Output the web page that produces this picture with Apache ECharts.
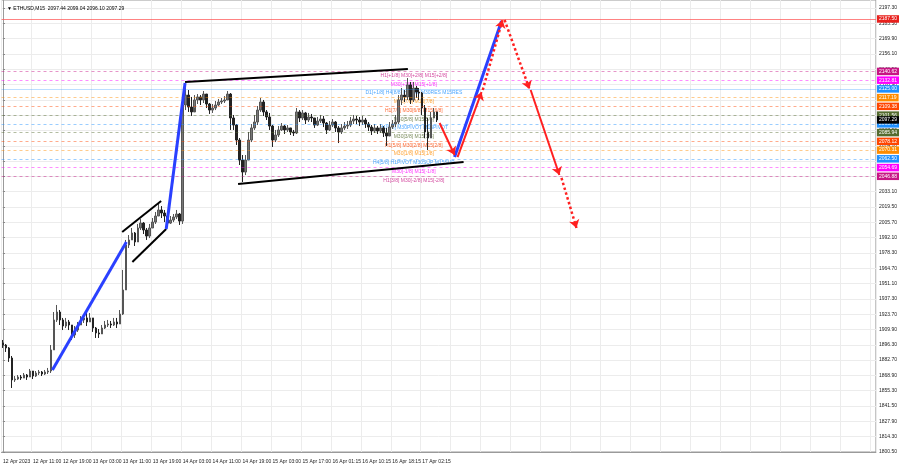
<!DOCTYPE html>
<html><head><meta charset="utf-8">
<script src="https://cdn.jsdelivr.net/npm/echarts@6/dist/echarts.min.js"></script>
<style>html,body{margin:0;padding:0;background:#fff}#c{width:900px;height:468px}</style>
</head><body><div id="c"></div>
<script>
const timeLabels = ['12 Apr 2023','12 Apr 11:00','12 Apr 19:00','13 Apr 03:00','13 Apr 11:00','13 Apr 19:00','14 Apr 03:00','14 Apr 11:00','14 Apr 19:00','15 Apr 03:00','15 Apr 17:00','16 Apr 01:15','16 Apr 10:15','16 Apr 18:15','17 Apr 02:15'];
const priceTicks = [1800.50,1814.30,1827.90,1841.50,1855.30,1868.90,1882.70,1896.30,1909.90,1923.70,1937.30,1951.10,1964.70,1978.30,1992.10,2005.70,2019.50,2033.10,2046.70,2060.50,2074.10,2087.90,2101.50,2115.30,2128.90,2142.50,2156.10,2169.90,2183.50,2197.30];

const firstOpen = 1898.0;
const closes = [1896.1,1893.5,1884.5,1864.9,1865.7,1867.5,1866.6,1869.3,1867.5,1872.9,1868.4,1871.1,1872.0,1870.2,1872.0,1872.9,1891.7,1918.5,1925.6,1918.5,
1913.1,1916.7,1914.0,1905.1,1909.5,1914.0,1918.5,1920.3,1916.7,1920.3,1911.3,1906.9,1906.0,1911.3,1914.0,1914.9,1914.0,1916.7,1914.9,1923.8,
1945.3,1985.5,1990.0,1996.2,1988.2,2000.7,2005.1,1998.9,1993.5,2000.7,2006.0,2011.4,2016.8,2014.1,2011.4,2005.1,2007.8,2010.5,2013.2,2006.9,
2110.6,2119.5,2108.8,2104.4,2115.1,2117.8,2115.1,2120.4,2111.5,2106.1,2107.9,2110.6,2113.3,2114.2,2115.1,2120.4,2099.0,2092.7,2079.3,2061.4,
2050.7,2061.4,2079.3,2090.1,2095.4,2106.1,2113.3,2104.4,2099.9,2091.8,2079.3,2083.8,2088.3,2091.8,2088.3,2090.1,2086.5,2085.6,2104.4,2099.0,
2103.5,2097.2,2099.9,2099.0,2092.7,2096.3,2098.1,2094.5,2088.3,2092.7,2095.4,2090.1,2086.5,2090.1,2091.8,2092.7,2096.3,2098.1,2097.2,2095.4,
2097.2,2093.6,2090.9,2087.4,2090.1,2087.4,2090.1,2085.6,2082.9,2090.9,2093.6,2095.4,2115.1,2119.5,2117.8,2128.5,2115.1,2125.8,2122.2,2121.3,
2107.9,2086.5,2081.1,2099.0,2104.4,2097.3];
const highs = [1900.6,1897.0,1894.3,1886.3,1868.4,1869.3,1869.3,1871.1,1870.2,1874.7,1872.9,1872.9,1873.8,1872.9,1873.8,1875.6,1896.1,1925.6,1931.9,1927.4,
1920.3,1920.3,1918.5,1913.1,1913.1,1916.7,1922.0,1923.8,1925.6,1924.7,1920.3,1912.2,1910.4,1914.0,1917.6,1918.5,1917.6,1920.3,1920.3,1927.4,
1963.2,1990.0,1994.4,2000.7,1997.1,2004.3,2008.7,2006.0,2000.7,2004.3,2009.6,2015.0,2023.0,2020.3,2016.8,2012.3,2011.4,2013.2,2016.8,2014.1,
2119.5,2126.7,2124.0,2117.8,2119.5,2120.4,2119.5,2123.1,2118.6,2112.4,2111.5,2114.2,2116.0,2116.9,2118.6,2123.1,2121.3,2101.7,2093.6,2081.1,
2065.9,2065.9,2086.5,2093.6,2101.7,2109.7,2116.9,2115.1,2106.1,2103.5,2092.7,2088.3,2091.8,2094.5,2092.7,2092.7,2090.1,2088.3,2107.9,2106.1,
2106.1,2104.4,2103.5,2102.6,2099.0,2099.9,2101.7,2100.8,2095.4,2096.3,2098.1,2096.3,2091.8,2093.6,2095.4,2096.3,2099.9,2101.7,2100.8,2099.9,
2100.8,2099.0,2095.4,2092.7,2093.6,2091.8,2093.6,2091.8,2090.1,2095.4,2097.2,2101.7,2119.5,2125.8,2124.0,2134.7,2131.2,2131.2,2127.6,2125.8,
2122.2,2110.6,2099.0,2104.4,2107.9,2102.6];
const lows = [1893.5,1889.9,1881.0,1857.7,1863.1,1864.9,1864.9,1866.6,1864.9,1869.3,1865.7,1867.5,1869.3,1868.4,1869.3,1870.2,1871.1,1891.7,1916.7,1914.0,
1909.5,1911.3,1909.5,1900.6,1902.4,1907.8,1914.0,1915.8,1913.1,1916.7,1907.8,1902.4,1902.4,1906.9,1910.4,1912.2,1911.3,1913.1,1911.3,1916.7,
1922.9,1949.8,1982.8,1990.0,1984.6,1990.0,1998.9,1995.3,1990.0,1991.7,2000.7,2004.3,2011.4,2009.6,2006.0,2001.6,2004.3,2006.0,2008.7,2003.4,
2004.3,2106.1,2104.4,2100.8,2107.9,2111.5,2110.6,2112.4,2107.9,2102.6,2103.5,2106.1,2109.7,2111.5,2112.4,2115.1,2088.3,2088.3,2074.9,2057.0,
2041.8,2048.0,2061.4,2077.5,2088.3,2092.7,2104.4,2100.8,2097.2,2088.3,2073.1,2077.5,2082.0,2087.4,2084.7,2086.5,2083.8,2082.9,2084.7,2095.4,
2097.2,2093.6,2095.4,2095.4,2090.1,2091.8,2094.5,2090.9,2084.7,2087.4,2090.9,2086.5,2076.6,2084.7,2088.3,2089.2,2090.9,2093.6,2093.6,2091.8,
2092.7,2090.1,2087.4,2083.8,2085.6,2084.7,2085.6,2082.0,2074.0,2085.6,2089.2,2090.9,2093.6,2110.6,2113.3,2115.1,2111.5,2113.3,2116.9,2115.1,
2101.7,2081.1,2070.4,2091.8,2099.0,2095.4];

const levelPrices = [2140.62,2132.81,2125.00,2117.19,2109.38,2101.56,2093.75,2085.94,2078.12,2070.31,2062.50,2054.69,2046.88];
const levelTexts = ['H1[+1/8] M30[+2/8] M15[+2/8]','M30[+1/8] M15[+1/8]','D1[+1/8] H4[8/8] H1[8/8] M30RES M15RES','M30[7/8] M15[7/8]','H1[7/8] M30[6/8] M15[6/8]','M30[5/8] M15[5/8]','H1[6/8] M30PIVOT M15PIVOT','M30[3/8] M15[3/8]','H1[5/8] M30[2/8] M15[2/8]','M30[1/8] M15[1/8]','H4[5/8] H1PIVOT M30SUP M15SUP','M30[-1/8] M15[-1/8]','H1[3/8] M30[-2/8] M15[-2/8]'];
const targetPrice = 2187.50;
const lastPrice = 2097.29;
const quote = 'ETHUSD,M15  2097.44 2099.04 2096.10 2097.29';

// trend segments: [[barIndex, price],[barIndex, price]]
const blueLines = [[[16.5,1873.8],[41.2,1988.2]], [[54.5,1999.8],[60.8,2130.3]], [[150.8,2064.1],[166.5,2185.7]]];
const blackLines = [[[39.8,1997.1],[52.8,2024.8]], [[43.2,1970.3],[54.5,1999.8]], [[60.8,2131.2],[135.2,2142.8]], [[78.5,2040.0],[153.8,2059.7]]];
const redSolidArrows = [[[145.8,2094.5],[150.8,2065.9]], [[151.8,2064.1],[159.8,2122.2]], [[176.2,2124.0],[185.8,2048.1]]];
const redDottedArrows = [[[160.2,2124.0],[166.8,2186.6]], [[167.5,2186.6],[175.8,2124.9]], [[186.5,2045.4],[191.5,2000.7]]];

const NCAT = 292;
const textIndex = 137.2;

const MVR='#c71585', MAG='#ff00ff', BLU='#1e90ff', ORG='#ff8c00', ORD='#ff4500', OLV='#556b2f';
const levelColors = [MVR,MAG,BLU,ORG,ORD,OLV,BLU,OLV,ORD,ORG,BLU,MAG,MVR];
const FONT = 'Liberation Sans';

function rgba(hex, a) {
  const n = parseInt(hex.slice(1), 16);
  return 'rgba(' + ((n >> 16) & 255) + ',' + ((n >> 8) & 255) + ',' + (n & 255) + ',' + a + ')';
}

const cats = Array.from({length: NCAT}, (_, i) => String(i));
const ohlc = closes.map((c, i) => [i === 0 ? firstOpen : closes[i-1], c, lows[i], highs[i]]);

function tagLabel(v, bg) {
  return {show: true, position: 'end', distance: 1, formatter: v.toFixed(2), backgroundColor: bg, color: '#fff',
    fontSize: 5, fontFamily: FONT, padding: [1.5, 2, 1, 2]};
}
const levelMarks = levelPrices.map((p, i) => ({
  yAxis: p,
  lineStyle: {color: rgba(levelColors[i], i === 2 ? 0.3 : 0.45), width: 1, type: (i === 2) ? 'solid' : [3, 3]},
  label: tagLabel(p, levelColors[i])
}));
levelMarks.push({yAxis: targetPrice, lineStyle: {color: 'rgba(255,90,90,0.75)', width: 1, type: 'solid'}, label: tagLabel(targetPrice, '#e8201c')});
levelMarks.push({yAxis: lastPrice, lineStyle: {color: 'rgba(0,0,0,0)', width: 0}, label: tagLabel(lastPrice, '#000')});

function segs(list, style) {
  return list.map(s => [{coord: s[0], lineStyle: style}, {coord: s[1], lineStyle: style}]);
}
const trendData = segs(blackLines, {color: '#000', width: 2, type: 'solid'})
  .concat(segs(blueLines, {color: '#2a40ff', width: 3, type: 'solid'}));
const arrowData = segs(redSolidArrows, {color: '#ff2020', width: 2, type: 'solid'})
  .concat(segs(redDottedArrows, {color: '#ff2020', width: 2.5, type: 'dotted'}));

const option = {
  animation: false,
  backgroundColor: '#fff',
  title: {text: '\u25BC ' + quote, left: 2, top: 1, textStyle: {fontSize: 5, fontWeight: 'normal', color: '#000', fontFamily: FONT}},
  grid: {left: 1, right: 23, top: 0, height: 452, show: true, borderColor: '#9a9a9a', borderWidth: 1},
  xAxis: [
    {type: 'category', data: cats, boundaryGap: true,
     axisLine: {show: true, lineStyle: {color: '#9a9a9a'}}, axisTick: {show: false},
     axisLabel: {interval: 9, formatter: (v) => timeLabels[Number(v) / 10] || '',
       align: 'left', fontSize: 5, color: '#222', fontFamily: FONT, margin: 7, hideOverlap: false},
     splitLine: {show: true, interval: 9, lineStyle: {color: '#ececec', width: 1}}},
    {type: 'value', min: -0.5, max: NCAT - 0.5, show: false}
  ],
  yAxis: {type: 'value', position: 'right', min: 1800.5, max: 2204.45, scale: true,
    axisLine: {show: true, lineStyle: {color: '#9a9a9a'}},
    axisTick: {show: true, length: 2, customValues: priceTicks, lineStyle: {color: '#888'}},
    axisLabel: {customValues: priceTicks, formatter: v => v.toFixed(2), fontSize: 5, color: '#222', fontFamily: FONT, margin: 3},
    splitLine: {show: true, lineStyle: {color: '#ececec', width: 1}}},
  series: [
    {type: 'scatter', xAxisIndex: 1, symbolSize: 0, silent: true, z: 1,
     data: levelPrices.map((p, i) => ({value: [textIndex, p], label: {show: true, position: 'inside', offset: [0, 4],
       formatter: levelTexts[i], color: levelColors[i], fontSize: 5, fontFamily: FONT}}))},
    {type: 'candlestick', xAxisIndex: 0, data: ohlc, barWidth: 2, silent: true, z: 2,
     itemStyle: {color: '#777', color0: '#222', borderColor: '#555', borderColor0: '#222', borderWidth: 1},
     markLine: {silent: true, symbol: 'none', animation: false, data: levelMarks}},
    {type: 'line', xAxisIndex: 1, data: [], silent: true, z: 4,
     markLine: {silent: true, symbol: 'none', animation: false, label: {show: false}, data: trendData}},
    {type: 'line', xAxisIndex: 1, data: [], silent: true, z: 5,
     markLine: {silent: true, symbol: ['none', 'arrow'], symbolSize: 8, animation: false, label: {show: false},
       itemStyle: {color: '#ff2020'}, data: arrowData}}
  ]
};
const chart = echarts.init(document.getElementById('c'), null, {renderer: 'canvas'});
chart.setOption(option);
</script></body></html>
